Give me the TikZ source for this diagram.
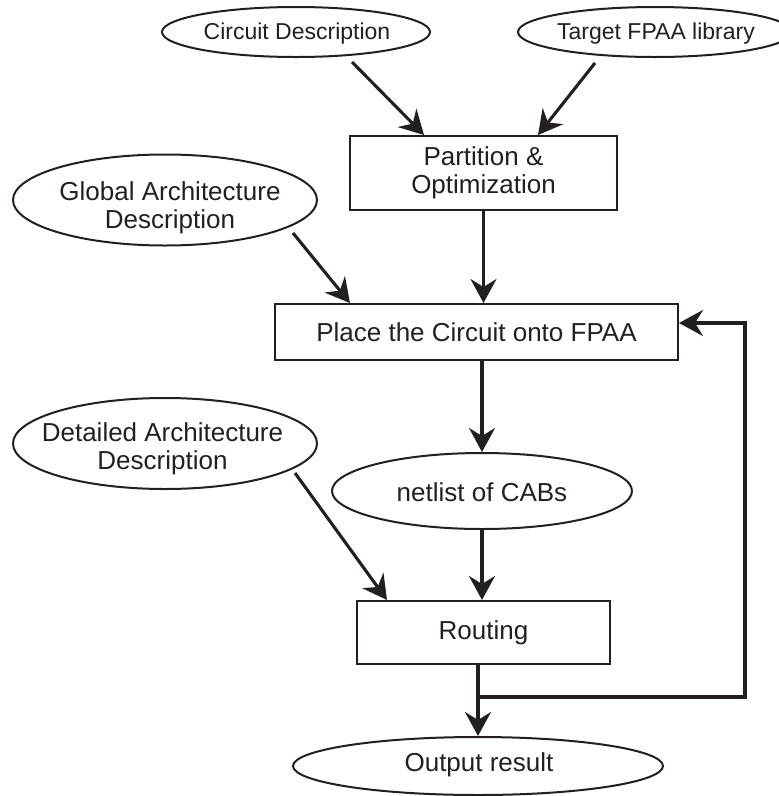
\documentclass[tikz,border=0pt]{standalone}
\usepackage{fontspec}
\setmainfont{Liberation Sans}
\usetikzlibrary{arrows.meta,calc,shapes.geometric}
\definecolor{ink}{RGB}{35,31,32}
\newcommand\mainfnt{\fontsize{26pt}{28pt}\selectfont}
\newcommand\topfnt{\fontsize{23pt}{26pt}\selectfont}
\begin{document}
\begin{tikzpicture}[x=1pt,y=-1pt,
  box/.style={draw=ink, line width=2pt, rectangle, inner sep=0pt, align=center, font=\mainfnt, text=ink},
  lbl/.style={inner sep=0pt, align=center, font=\mainfnt, text=ink},
  toplbl/.style={lbl, font=\topfnt},
  oval/.style={draw=ink, line width=2pt, ellipse, inner sep=0pt},
  arr/.style={draw=ink, line width=3.1pt, -{Stealth[length=24pt,width=26pt,inset=8pt]}},
  fbline/.style={draw=ink, line width=3.5pt, -{Stealth[length=24pt,width=26pt,inset=8pt]}}]
\useasboundingbox (0,0) rectangle (779,796);
\clip (0,0) rectangle (779,796);

% ellipses
\node[oval, minimum width=268pt, minimum height=50pt] (cE) at (296,32) {};
\node[toplbl] (cT) at (297,34) {Circuit Description};
\node[oval, minimum width=274pt, minimum height=50pt] (tE) at (655,32) {};
\node[toplbl] (tT) at (656,34) {Target FPAA library};
\node[oval, minimum width=304pt, minimum height=91pt] (gE) at (165,200) {};
\node[lbl] (gT) at (170,208) {Global Architecture\\Description};
\node[oval, minimum width=304pt, minimum height=91pt] (dE) at (165,443.5) {};
\node[lbl] (dT) at (162.5,449) {Detailed Architecture\\Description};
\node[oval, minimum width=300pt, minimum height=76pt] (nE) at (482,491) {};
\node[lbl] (nT) at (482,492) {netlist of CABs};
\node[oval, minimum width=370pt, minimum height=58pt] (oE) at (478,766) {};
\node[lbl] (oT) at (479,765) {Output result};

% boxes
\node[box, minimum width=267pt, minimum height=74pt] (part) at (483.5,173) {Partition \&\\Optimization};
\node[box, minimum width=403pt, minimum height=56pt] (place) at (476.5,332) {Place the Circuit onto FPAA};
\node[box, minimum width=253pt, minimum height=63pt] (rout) at (483.5,632.5) {Routing};

% arrow tails
\coordinate (cA) at (352,62);
\coordinate (tA) at (595,63);
\coordinate (gA) at (293,233);
\coordinate (dA) at (295,473);

\draw[arr] (cA) -- ($(part.north west)+(75,0)$);
\draw[arr] (tA) -- ($(part.north west)+(189,0)$);
\draw[arr] (gA) -- ($(place.north west)+(76,0)$);
\draw[arr] (dA) -- ($(rout.north west)+(31,0)$);

\draw[arr] (part.south) -- (part.south |- place.north);
\draw[arr] (nE.north |- place.south) -- (nE.north);
\draw[arr] (nE.south) -- (nE.south |- rout.north);
\draw[arr] (oE.north |- rout.south) -- (oE.north);

% feedback
\coordinate (fbs) at (478,697);
\coordinate (fbr) at (745,697);
\draw[fbline] (fbs) -- (fbr) |- ($(place.east)+(0,-9)$);
\end{tikzpicture}
\end{document}
